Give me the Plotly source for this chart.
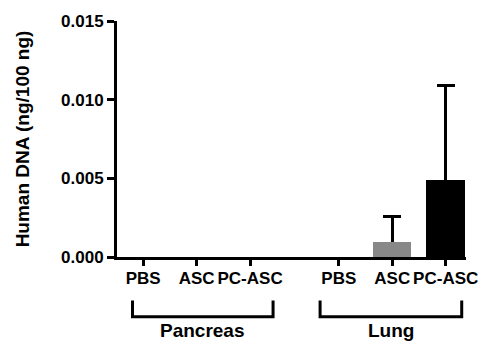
import plotly.graph_objects as go

# Data
categories = ["PBS", "ASC", "PC-ASC", "PBS", "ASC", "PC-ASC"]
positions = [0, 1, 2, 3.66, 4.66, 5.66]
values = [0.0, 0.0, 0.0, 0.0, 0.00093, 0.00487]
errors_up = [0.0, 0.0, 0.0, 0.0, 0.00162, 0.00603]
bar_colors = ["#000000", "#888888", "#000000", "#000000", "#888888", "#000000"]
groups = ["Pancreas", "Lung"]
group_spans = [(-0.2, 2.43), (3.31, 5.96)]
y_ticks = [0, 0.005, 0.010, 0.015]
y_ticktext = ["0.000", "0.005", "0.010", "0.015"]

FONT = "Arial, 'Liberation Sans', sans-serif"

# only bars that have an error bar
err_idx = [i for i, e in enumerate(errors_up) if e > 0]
err_x = [positions[i] for i in err_idx]
err_y = [values[i] for i in err_idx]
err_up = [errors_up[i] for i in err_idx]

fig = go.Figure()
# error bars (drawn first, lower stem hidden by the bars drawn on top)
fig.add_trace(go.Bar(
    x=err_x, y=err_y, width=0.72,
    marker=dict(color="rgba(0,0,0,0)", line=dict(width=0)),
    error_y=dict(type="data", array=err_up, arrayminus=err_y,
                 symmetric=False, color="black", thickness=3, width=9),
    showlegend=False, hoverinfo="skip",
))
# visible bars
fig.add_trace(go.Bar(
    x=positions, y=values, width=0.72,
    marker=dict(color=bar_colors, line=dict(width=0)),
    showlegend=False,
))

fig.update_layout(
    width=482, height=343,
    margin=dict(l=117, r=16, t=20, b=86),
    plot_bgcolor="white", paper_bgcolor="white",
    font=dict(family=FONT, size=17, color="black", weight=700),
    barmode="overlay", bargap=0,
)
fig.update_xaxes(
    range=[-0.49, 6.04], tickvals=positions, ticktext=categories,
    showline=True, linecolor="black", linewidth=3,
    ticks="outside", ticklen=6, tickwidth=3, tickcolor="black",
    showgrid=False, zeroline=False, ticklabelstandoff=-2,
    tickfont=dict(family=FONT, size=17, color="black", weight=700),
)
fig.update_yaxes(
    range=[0, 0.015], tickvals=y_ticks, ticktext=y_ticktext,
    showline=True, linecolor="black", linewidth=3,
    ticks="outside", ticklen=7, tickwidth=3, tickcolor="black",
    showgrid=False, zeroline=False,
    tickfont=dict(family=FONT, size=17, color="black", weight=700),
    title=dict(text="Human DNA (ng/100 ng)", standoff=27,
               font=dict(family=FONT, size=19, color="black", weight=700)),
)

for name, (x0, x1) in zip(groups, group_spans):
    fig.add_shape(type="path", xref="x", yref="paper",
                  path=f"M {x0},-0.184 L {x0},-0.253 L {x1},-0.253 L {x1},-0.184",
                  line=dict(color="black", width=3))
    fig.add_annotation(x=(x0 + x1) / 2, y=-0.31, xref="x", yref="paper",
                       text=name, showarrow=False, yanchor="middle",
                       font=dict(family=FONT, size=19, color="black", weight=700))

fig.write_html("out.html")
